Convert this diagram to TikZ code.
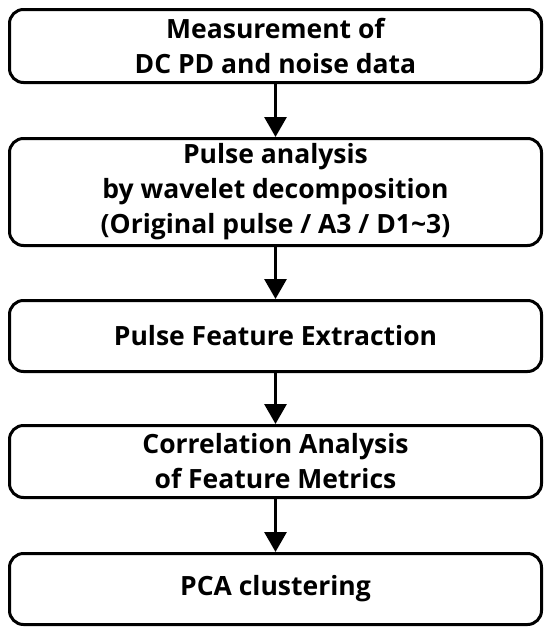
\documentclass[tikz,border=0pt]{standalone}
\usepackage{fontspec}
\setmainfont{Open Sans}
\usetikzlibrary{arrows.meta}
\begin{document}
\begin{tikzpicture}[x=1pt,y=-1pt]
\tikzset{stepbox/.style={draw,line width=3pt,rounded corners=14pt,minimum width=532pt,align=center,inner sep=0pt,font=\bfseries\fontsize{26.5}{35}\selectfont}}
\useasboundingbox (0,0) rectangle (550,632);
\node[stepbox,minimum height=73pt] (meas) at (275.5,46){Measurement of\\DC PD and noise data};
\node[stepbox,minimum height=107pt] (wav) at (275.5,192){Pulse analysis\\by wavelet decomposition\\(Original pulse / A3 / D1\textasciitilde3)};
\node[stepbox,minimum height=71pt] (feat) at (275.5,336){Pulse Feature Extraction};
\node[stepbox,minimum height=72pt] (corr) at (275.5,461.5){Correlation Analysis\\of Feature Metrics};
\node[stepbox,minimum height=71pt] (pca) at (275.5,589){PCA clustering};
\foreach \a/\b in {meas/wav,wav/feat,feat/corr,corr/pca}{\draw[line width=3pt,-{Triangle[length=20pt,width=22pt]}] (\a)--(\b);}
\end{tikzpicture}
\end{document}
